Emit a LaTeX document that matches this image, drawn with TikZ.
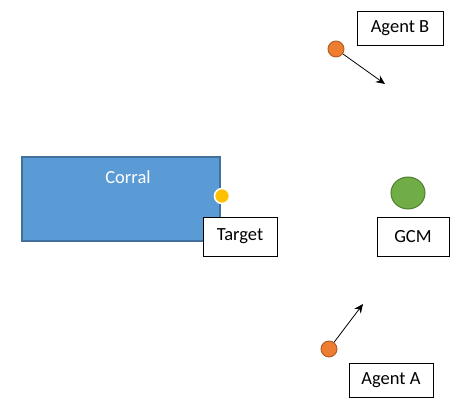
\documentclass[tikz,border=0pt]{standalone}
\usepackage{fontspec}
\setmainfont{Carlito}
\usetikzlibrary{arrows.meta, shapes.geometric}

\definecolor{corralblue}{HTML}{5B9BD5}
\definecolor{corraledge}{HTML}{41719C}
\definecolor{agentorange}{HTML}{ED7D31}
\definecolor{agentedge}{HTML}{AE5A21}
\definecolor{targetyellow}{HTML}{FFC000}
\definecolor{gcmgreen}{HTML}{70AD47}
\definecolor{gcmedge}{HTML}{507E32}

\tikzset{
	labelbox/.style={draw, rectangle, fill=white, line width=0.8pt, inner sep=0pt, font=\fontsize{18.5}{20}\selectfont},
	agent/.style={draw=agentedge, circle, fill=agentorange, line width=0.9pt, minimum size=16pt, inner sep=0pt}
}

\begin{document}
\begin{tikzpicture}[x=1pt, y=-1pt]
				\useasboundingbox (0, 0) rectangle (459, 418);
				\node[draw=corraledge, rectangle, fill=corralblue, line width=1.2pt, minimum width=198pt, minimum height=84pt, inner sep=0pt] (corral)at(121, 199) {};
				\node[text=white, font=\fontsize{18.5}{20}\selectfont] (corraltext)at(128, 177) {Corral};
				\node[draw=white, circle, fill=targetyellow, line width=1.5pt, minimum size=15pt, inner sep=0pt] (tgt)at(222, 196) {};
				\node[labelbox, minimum width=74pt, minimum height=39pt] (target)at(240, 236.5) {Target};
				\node[draw=gcmedge, ellipse, fill=gcmgreen, line width=1pt, minimum width=34pt, minimum height=32pt, inner sep=0pt] (gcm)at(408, 193) {};
				\node[labelbox, minimum width=72pt, minimum height=39pt] (gcmbox)at(413, 236.5) {GCM};
				\node[agent] (agB)at(336, 49) {};
				\node[labelbox, minimum width=86pt, minimum height=34pt] (agentB)at(400, 28) {Agent B};
				\node[agent] (agA)at(329, 349) {};
				\node[labelbox, minimum width=84pt, minimum height=34pt] (agentA)at(391, 380) {Agent A};
				\coordinate (headB) at (385, 84);
				\coordinate (headA) at (363, 304);
				\draw[-{Stealth[length=9pt, width=8pt]}, line width=0.8pt] (agB) -- (headB);
				\draw[-{Stealth[length=9pt, width=8pt]}, line width=0.8pt] (agA) -- (headA);
			\end{tikzpicture}
\end{document}
